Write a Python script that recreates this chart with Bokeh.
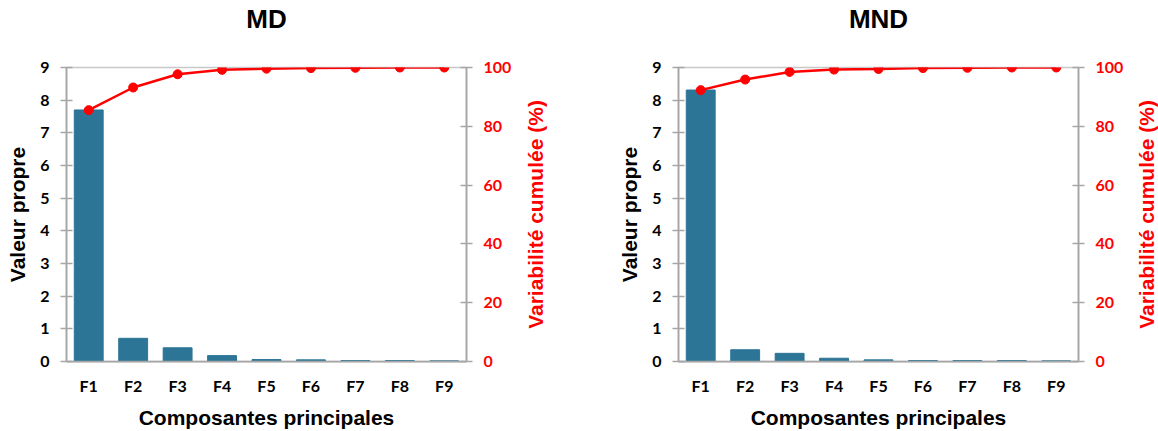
from bokeh.plotting import figure
from bokeh.models import Range1d, LinearAxis, FixedTicker, FactorRange, CategoricalAxis
from bokeh.layouts import row
from bokeh.embed import file_html
from bokeh.resources import INLINE

components = ["F1", "F2", "F3", "F4", "F5", "F6", "F7", "F8", "F9"]
md_eigen = [7.70, 0.71, 0.42, 0.18, 0.06, 0.05, 0.03, 0.03, 0.02]
md_cumul = [85.5, 93.2, 97.7, 99.2, 99.6, 99.8, 99.9, 100.0, 100.0]
mnd_eigen = [8.31, 0.36, 0.25, 0.10, 0.05, 0.03, 0.03, 0.03, 0.02]
mnd_cumul = [92.3, 95.9, 98.5, 99.3, 99.5, 99.8, 99.9, 100.0, 100.0]
left_ticks = [0, 1, 2, 3, 4, 5, 6, 7, 8, 9]
right_ticks = [0, 20, 40, 60, 80, 100]

BAR = "#2d7597"
AXIS = "#a6a6a6"
TICK_FONT = "Lato"
TICK_SIZE = "16px"
LABEL_FONT = "Liberation Sans"
TOP, FRAME_H, BOTTOM = 67, 294, 70


def make(title, eig, cum, border_left, border_right):
    p = figure(x_range=FactorRange(factors=components), y_range=Range1d(0, 9),
               frame_width=400, frame_height=FRAME_H,
               min_border_left=border_left, min_border_right=border_right,
               min_border_top=TOP, min_border_bottom=BOTTOM,
               output_backend="svg", toolbar_location=None, tools="")
    p.extra_y_ranges = {"cum": Range1d(0, 100)}
    p.background_fill_color = "white"
    p.border_fill_color = "white"
    p.outline_line_color = "#c8c8c8"
    p.outline_line_width = 1.5
    p.xgrid.visible = False
    p.ygrid.visible = False

    p.vbar(x=components, top=eig, width=0.65, fill_color=BAR, line_color=BAR)
    p.line(x=components, y=cum, y_range_name="cum", line_color="red", line_width=2.5)
    p.scatter(x=components, y=cum, y_range_name="cum", size=9,
              fill_color="red", line_color="red")

    ya = p.yaxis[0]
    ya.ticker = FixedTicker(ticks=left_ticks)
    ya.axis_label = "Valeur propre"
    ya.axis_label_text_font = LABEL_FONT
    ya.axis_label_text_font_size = "21px"
    ya.axis_label_text_font_style = "bold"
    ya.axis_label_text_color = "black"
    ya.axis_label_standoff = 8
    ya.major_label_text_font = TICK_FONT
    ya.major_label_text_font_size = TICK_SIZE
    ya.major_label_text_font_style = "bold"
    ya.major_label_text_color = "black"
    ya.major_label_standoff = 11
    ya.major_tick_in = 6
    ya.major_tick_out = 6
    ya.minor_tick_in = 0
    ya.minor_tick_out = 0
    ya.axis_line_color = AXIS
    ya.axis_line_width = 1.75
    ya.major_tick_line_color = AXIS
    ya.major_tick_line_width = 1.5

    xa = p.xaxis[0]
    xa.axis_label = "Composantes principales"
    xa.axis_label_text_font = LABEL_FONT
    xa.axis_label_text_font_size = "21px"
    xa.axis_label_text_font_style = "bold"
    xa.axis_label_text_color = "black"
    xa.axis_label_standoff = 8
    xa.major_label_text_font = TICK_FONT
    xa.major_label_text_font_size = TICK_SIZE
    xa.major_label_text_font_style = "bold"
    xa.major_label_text_color = "black"
    xa.major_label_standoff = 14
    xa.major_tick_in = 0
    xa.major_tick_out = 0
    xa.axis_line_color = AXIS
    xa.axis_line_width = 1.75

    ra = LinearAxis(y_range_name="cum", ticker=FixedTicker(ticks=right_ticks))
    ra.major_label_text_font = TICK_FONT
    ra.major_label_text_font_size = TICK_SIZE
    ra.major_label_text_font_style = "bold"
    ra.major_label_text_color = "red"
    ra.major_label_standoff = 11
    ra.major_tick_in = 6
    ra.major_tick_out = 6
    ra.minor_tick_in = 0
    ra.minor_tick_out = 0
    ra.axis_line_color = AXIS
    ra.axis_line_width = 1.75
    ra.major_tick_line_color = AXIS
    ra.major_tick_line_width = 1.5
    p.add_layout(ra, "right")

    # chart title: label of an empty (tick-less) axis above the plot
    ta = CategoricalAxis(ticker=FixedTicker(ticks=[]))
    ta.axis_line_color = None
    ta.major_tick_line_color = None
    ta.minor_tick_line_color = None
    ta.major_tick_in = 0
    ta.major_tick_out = 0
    ta.major_label_standoff = 0
    ta.major_label_text_font_size = "0px"
    ta.axis_label = title
    ta.axis_label_text_font = LABEL_FONT
    ta.axis_label_text_font_size = "26px"
    ta.axis_label_text_font_style = "bold"
    ta.axis_label_text_color = "black"
    ta.axis_label_standoff = 34
    p.add_layout(ta, "above")
    return p


def side_title(text):
    # narrow companion figure whose left-axis label is the right-hand title
    q = figure(x_range=Range1d(0, 1), y_range=Range1d(0, 1),
               frame_width=1, frame_height=FRAME_H,
               min_border_left=26, min_border_right=0,
               min_border_top=TOP, min_border_bottom=BOTTOM,
               output_backend="svg", toolbar_location=None, tools="")
    q.outline_line_color = None
    q.background_fill_color = "white"
    q.border_fill_color = "white"
    q.xgrid.visible = False
    q.ygrid.visible = False
    q.xaxis.visible = False
    ax = q.yaxis[0]
    ax.ticker = FixedTicker(ticks=[])
    ax.axis_line_color = None
    ax.major_tick_line_color = None
    ax.minor_tick_line_color = None
    ax.major_tick_in = 0
    ax.major_tick_out = 0
    ax.minor_tick_in = 0
    ax.minor_tick_out = 0
    ax.major_label_standoff = 0
    ax.major_label_text_font_size = "0px"
    ax.axis_label = text
    ax.axis_label_text_font = LABEL_FONT
    ax.axis_label_text_font_size = "21px"
    ax.axis_label_text_font_style = "bold"
    ax.axis_label_text_color = "red"
    ax.axis_label_standoff = 0
    return q


p1 = make("MD", md_eigen, md_cumul, 66, 54)
s1 = side_title("Variabilité cumulée (%)")
p2 = make("MND", mnd_eigen, mnd_cumul, 131, 53)
s2 = side_title("Variabilité cumulée (%)")
layout = row(p1, s1, p2, s2)

open("out.html", "w").write(file_html(layout, INLINE))
